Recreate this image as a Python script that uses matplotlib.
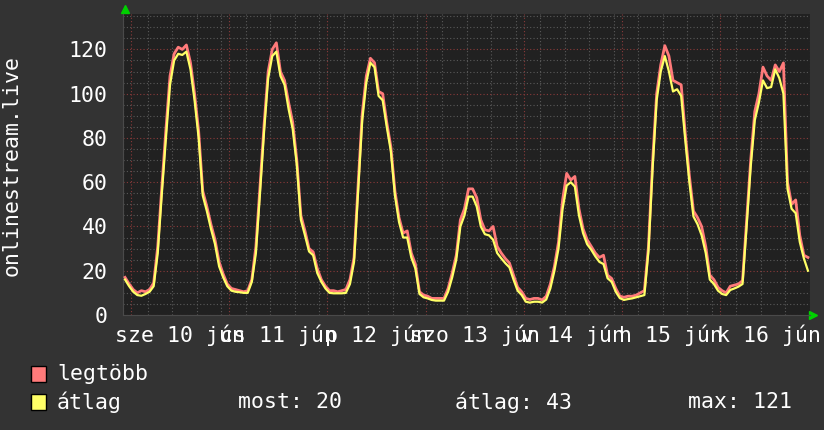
import numpy as np
import matplotlib
matplotlib.use("Agg")
import matplotlib.pyplot as plt
from matplotlib.patches import Rectangle
from matplotlib.ticker import MultipleLocator, FixedLocator

plt.rcParams['font.family'] = ['DejaVu Sans Mono']

# hourly samples, starting 9 jún 22:00
avg_vals = [16, 13, 10.5, 9, 8.7, 9.5, 10.5, 13, 28, 55, 80, 104, 115, 118, 117.5, 119, 111, 97, 80, 54,
            47, 39, 32, 22, 17, 13, 11, 10.5, 10.3,
            10, 10, 15, 28, 55, 83, 107, 117, 119, 108, 104, 93, 84, 68, 43, 36, 28.7, 27, 19, 15,
            12, 10, 9.8, 9.8, 9.8, 10, 14, 24,
            56, 88, 105, 114, 112, 99, 97, 85, 74, 54, 42, 35, 35, 26, 21, 9.5, 8, 7.5, 6.8, 6.5,
            6.5, 6.5, 10.5, 17, 25, 40, 45, 53.5,
            53.5, 49, 40, 36.5, 36, 34, 28, 25.6, 23.4, 21.5, 16, 11, 9, 6, 5.6, 6, 6, 5.6, 7, 12,
            20, 30, 48, 58.5, 60, 58, 45, 37,
            32, 29.5, 26.5, 24, 23, 16.6, 15, 10.5, 7.6, 6.8, 7.2, 7.5, 8, 8.5, 9, 29, 66, 97, 110, 117,
            110, 101, 102, 99, 79, 60, 44.5, 41,
            36, 28, 16, 14, 11, 9.5, 9, 11.3, 12, 12.8, 14, 40, 67, 88, 96, 106, 102.5, 103, 111, 107,
            100, 57, 48, 46, 33, 25.6, 20]
max_vals = [17, 14, 11.5, 10, 11, 10.5, 11.5, 14.5, 31, 58, 84, 108, 118, 121, 120, 122, 114, 100, 83, 56,
            49, 41, 34, 24, 18.5, 14, 12, 11.5, 11,
            10.5, 11, 16, 31, 58, 86, 110, 120, 123, 110, 106, 96, 87, 70, 45, 38, 30, 28.5, 21, 16,
            13, 11, 11, 10.5, 11, 11.5, 16, 26,
            59, 91, 108, 116, 114, 101, 100, 87, 76, 56, 44, 37, 38, 28, 23, 10.5, 9, 8.5, 7.5, 7.5,
            7.5, 7.5, 12, 19, 27, 43, 48, 57,
            57, 53, 43, 38.5, 38, 40, 31, 28, 25.5, 23.5, 18, 12.5, 10.5, 7.5, 7, 7.5, 7.5, 6.8, 8.5, 14,
            22, 33, 52, 64, 61, 62.6, 48, 39,
            34, 31, 28, 26, 27, 18, 16.5, 12, 8.5, 8, 8.5, 8.5, 9, 10, 11, 31, 69, 100, 113, 121.7,
            117, 106, 105, 104, 82, 63, 47, 44,
            40, 31, 18, 16, 12.5, 11, 10, 13, 13.5, 14, 15.5, 43, 70, 92, 100, 112, 108, 106, 113, 110,
            113.9, 60, 50, 52, 36, 27, 26]
hours = np.arange(len(avg_vals)) + 0.5

day_labels = ["sze 10 jún", "cs 11 jún", "p 12 jún", "szo 13 jún", "v 14 jún", "h 15 jún", "k 16 jún"]
day_start = 2     # first midnight, hours after start
ylabel = "onlinestream.live"
legend_names = ["legtöbb", "átlag"]
stats = ["most: 20", "átlag: 43", "max: 121"]

W, H = 824, 430
bg = '#333333'
red = '#ff7a7a'
yellow = '#ffff66'
fs = 15.5

fig = plt.figure(figsize=(W / 100, H / 100), dpi=100, facecolor=bg)
ax = fig.add_axes([123 / W, 1 - 315 / H, 687 / W, 301 / H])
ax.set_facecolor('#212121')

ax.plot(hours, max_vals, color=red, lw=2.0, zorder=3)
ax.plot(hours, avg_vals, color=yellow, lw=1.6, zorder=4)

ax.set_xlim(0, 168)
ax.set_ylim(0, 136)

# grid
ax.yaxis.set_major_locator(MultipleLocator(20))
ax.yaxis.set_minor_locator(MultipleLocator(5))
ax.xaxis.set_major_locator(FixedLocator([day_start + 24 * i for i in range(7)]))
ax.xaxis.set_minor_locator(MultipleLocator(6))
ax.grid(which='minor', color='#5a5a5a', linestyle=(0, (1, 2)), lw=0.8, zorder=1)
ax.grid(which='major', color='#8a3a3a', linestyle=(0, (1, 2)), lw=0.8, zorder=2)

ax.set_yticks([0, 20, 40, 60, 80, 100, 120])
ax.set_yticklabels([str(v) for v in [0, 20, 40, 60, 80, 100, 120]])
ax.tick_params(axis='both', which='both', length=0, colors='white', labelsize=fs)
ax.tick_params(axis='y', pad=11)
ax.set_xticks([day_start + 24 * i for i in range(7)])
ax.set_xticklabels([])
for i, lab in enumerate(day_labels):
    ax.text(day_start + 12 + 24 * i, -0.03, lab, transform=ax.get_xaxis_transform(),
            ha='center', va='top', color='white', fontsize=fs)

for s in ax.spines.values():
    s.set_visible(False)
ax.spines['bottom'].set_visible(True)
ax.spines['left'].set_visible(True)
ax.spines['bottom'].set_color('#4a4a4a')
ax.spines['left'].set_color('#4a4a4a')

# green axis arrows
ax.plot([1.004], [0], marker='>', color='#00d000', ms=6, transform=ax.transAxes, clip_on=False)
ax.plot([0.003], [1.015], marker='^', color='#00d000', ms=6, transform=ax.transAxes, clip_on=False)

fig.text(12 / W, 1 - 165 / H, ylabel, rotation=90, ha='center', va='center',
         color='white', fontsize=fs)

# legend
for (name, col, yc) in [(legend_names[0], red, 374), (legend_names[1], yellow, 402)]:
    fig.patches.append(Rectangle((31 / W, 1 - (yc + 8) / H), 15 / W, 16 / H, transform=fig.transFigure,
                                 facecolor=col, edgecolor='black', lw=1))
    fig.text(57 / W, 1 - yc / H, name, ha='left', va='center', color='white', fontsize=fs)
for txt, x in zip(stats, [238, 455, 688]):
    fig.text(x / W, 1 - 402 / H, txt, ha='left', va='center', color='white', fontsize=fs)

fig.savefig('out.png', dpi=100, facecolor=bg)
